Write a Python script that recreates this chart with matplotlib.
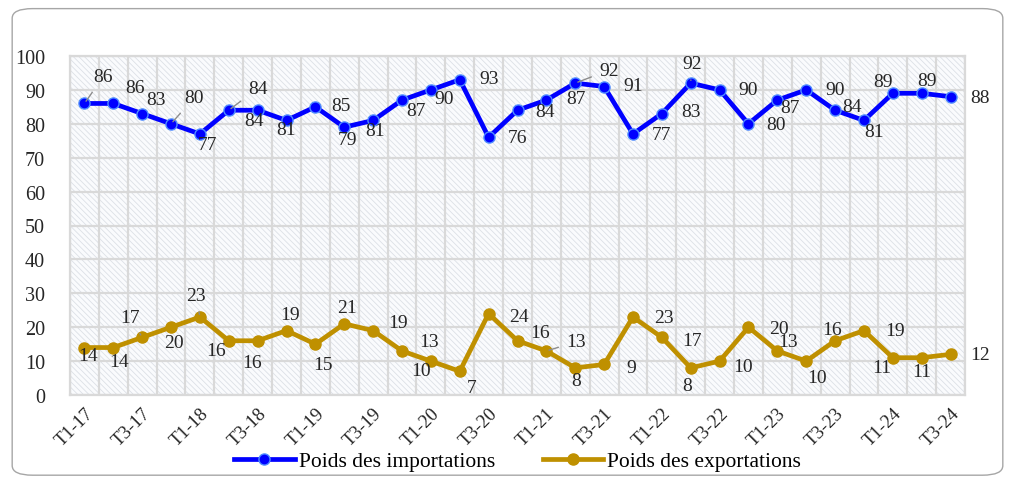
import numpy as np
import matplotlib
matplotlib.use("Agg")
import matplotlib.pyplot as plt
from matplotlib.patches import Rectangle, FancyBboxPatch

periods = ["T%d-%d" % (q, y) for y in range(17, 25) for q in range(1, 5)][:31]
imports = [86, 86, 83, 80, 77, 84, 84, 81, 85, 79, 81, 87, 90, 93, 76, 84,
           87, 92, 91, 77, 83, 92, 90, 80, 87, 90, 84, 81, 89, 89, 88]
exports = [14, 14, 17, 20, 23, 16, 16, 19, 15, 21, 19, 13, 10, 7, 24, 16,
           13, 8, 9, 23, 17, 8, 10, 20, 13, 10, 16, 19, 11, 11, 12]

# label offsets in pixels (dx, dy with y going up)
imp_off = [(19, 27), (22, 16), (14, 14), (23, 26), (8, -11), (29, 22), (-4, -10),
           (0, -9), (26, 1), (3, -12), (2, -10), (14, -10), (13, -9), (29, 1),
           (29, 0), (28, -1), (30, 2), (34, 13), (29, 1), (29, -1), (29, 2),
           (1, 20), (29, 0), (28, -1), (13, -7), (29, 0), (17, 4), (10, -11),
           (-10, 12), (5, 13), (29, -1)]
exp_off = [(4, -8), (6, -14), (-12, 20), (3, -15), (-4, 22), (-13, -10), (-6, -22),
           (3, 16), (8, -20), (3, 16), (25, 8), (27, 9), (-10, -9), (12, -16),
           (30, -3), (23, 8), (30, 9), (1, -13), (27, -3), (31, 0), (30, -3),
           (-4, -18), (23, -5), (30, -1), (11, 9), (11, -16), (-3, 11), (31, 0),
           (-11, -10), (0, -14), (30, 0)]
imp_lead = [0, 3, 5, 17, 21]
exp_lead = [2, 4, 16]

blue = "#0000FF"
gold = "#BF9000"
plt.rcParams["font.family"] = ["Liberation Serif", "DejaVu Serif"]
plt.rcParams["hatch.linewidth"] = 0.6

fig = plt.figure(figsize=(10.15, 4.81), dpi=100)
fig.patches.append(FancyBboxPatch((0.012, 0.01), 0.976, 0.97,
                                  boxstyle="round,pad=0,rounding_size=0.02",
                                  transform=fig.transFigure, fill=False,
                                  edgecolor="#A6A6A6", lw=1.0))
ax = fig.add_axes([70 / 1015, 1 - 396 / 481, 895 / 1015, 339 / 481])

x = np.arange(len(periods))
ax.add_patch(Rectangle((0, 0), 1, 1, transform=ax.transAxes, facecolor="#FAFBFD",
                       edgecolor="#DCE0E6", hatch="\\\\\\\\\\\\", lw=0, zorder=0))

ax.plot(x, imports, color=blue, lw=3.4, marker="o", ms=8, mfc=blue,
        mec="#4F8CFF", mew=1, label="Poids des importations", zorder=3)
ax.plot(x, exports, color=gold, lw=3.4, marker="o", ms=8, mfc=gold,
        mec=gold, label="Poids des exportations", zorder=3)

def put_labels(vals, offs, leads):
    for i, v in enumerate(vals):
        dx, dy = offs[i]
        kw = {}
        if i in leads:
            kw["arrowprops"] = dict(arrowstyle="-", color="#8C8C8C", lw=1.0,
                                    shrinkA=4, shrinkB=2)
        ax.annotate(str(v), (i, v), xytext=(dx, dy), textcoords="offset pixels",
                    ha="center", va="center", fontsize=14, color="#262626",
                    zorder=4, **kw)

put_labels(imports, imp_off, imp_lead)
put_labels(exports, exp_off, exp_lead)

ax.set_xlim(-0.5, len(periods) - 0.5)
ax.set_ylim(0, 100)
ax.set_yticks(range(0, 101, 10))
ax.set_xticks(x[::2])
ax.set_xticklabels(periods[::2], rotation=45, ha="right", rotation_mode="anchor")
ax.set_xticks(np.arange(-0.5, len(periods), 1), minor=True)
ax.tick_params(axis="x", which="both", length=0, pad=7, labelsize=13.5, colors="#262626")
ax.tick_params(axis="y", length=0, pad=18, labelsize=14.5, colors="#262626")
ax.grid(False)
ax.grid(True, axis="x", which="minor", color="#D9D9D9", lw=1.6, zorder=1)
ax.grid(True, axis="y", which="major", color="#D9D9D9", lw=1.6, zorder=1)
ax.set_axisbelow(True)
for s in ax.spines.values():
    s.set_color("#D9D9D9")
    s.set_linewidth(1.6)

fig.legend(loc="lower center", bbox_to_anchor=(0.51, -0.022), ncol=2, frameon=False,
           fontsize=15.5, handlelength=2.8, columnspacing=2.2, handletextpad=0.2)

fig.savefig("out.png", dpi=100)
